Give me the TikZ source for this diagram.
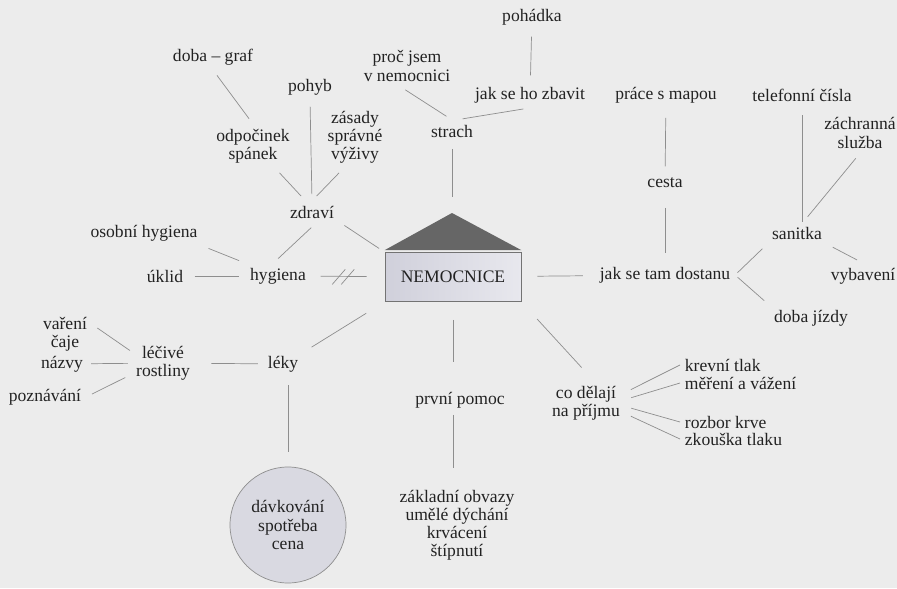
\documentclass[tikz,border=0pt]{standalone}
\usepackage{fontspec}
\setmainfont{Liberation Serif}
\newfontfamily\mapFace{Liberation Serif}
\definecolor{paperGray}{HTML}{ECECEC}
\definecolor{inkGray}{HTML}{222222}
\definecolor{wireGray}{HTML}{8E8E8E}
\definecolor{roofGray}{HTML}{666666}
\definecolor{boxLeft}{HTML}{D0D0DB}
\definecolor{boxRight}{HTML}{E8E8EE}
\definecolor{ballGray}{HTML}{D9D9E1}

\begin{document}
\begin{tikzpicture}[x=0.03cm,y=-0.03cm,%%
  labelStyle/.style={text=inkGray,align=center,inner sep=4pt,font=\mapFace\fontsize{15}{15.5}\selectfont},%%
  markStyle/.style={draw=wireGray,line width=0.6pt},%%
  linkStyle/.style={markStyle,shorten <=0.2cm,shorten >=0.2cm},%%
  hubStyle/.style={draw=black!55,line width=0.6pt,left color=boxLeft,right color=boxRight,minimum width=4.08cm,minimum height=1.47cm,inner sep=0pt,text=inkGray,font=\mapFace\fontsize{15}{15.5}\selectfont},%%
  roofStyle/.style={fill=roofGray},%%
  ballStyle/.style={circle,draw=wireGray,line width=0.6pt,fill=ballGray,minimum size=3.48cm,inner sep=0pt,align=center,text=inkGray,font=\mapFace\fontsize{15}{15.5}\selectfont}%%
]
%%
%% The page, measured in pixels of the scan.
\useasboundingbox (0,0) rectangle (897,588);
\fill[paperGray] (0,0) rectangle (897,588);
%%
%% The hospital in the middle: box first, roof on top of it.
\node[hubStyle] (nemocnice) at (453,277) {NEMOCNICE};
\coordinate (roofTop) at (452,213);
\fill[roofStyle] ([yshift=0.06cm]nemocnice.north west) -- (roofTop) -- ([yshift=0.06cm]nemocnice.north east) -- cycle;
%%
%% Health and hygiene (upper left).
\node[labelStyle] (zdravi) at (312,212) {zdraví};
\node[labelStyle] (pohyb) at (310,87) {pohyb};
\node[labelStyle] (odpocinek) at (253,146) {odpočinek\\spánek};
\node[labelStyle] (zasady) at (355,137) {zásady\\správné\\výživy};
\node[labelStyle] (dobaGraf) at (213,57) {doba – graf};
\node[labelStyle] (hygiena) at (278,276) {hygiena};
\node[labelStyle] (osobni) at (144,233) {osobní hygiena};
\node[labelStyle] (uklid) at (165,276) {úklid};
%%
%% Fear (top).
\node[labelStyle] (strach) at (452,131) {strach};
\node[labelStyle] (proc) at (407,66) {proč jsem\\v nemocnici};
\node[labelStyle] (zbavit) at (530,95) {jak se ho zbavit};
\node[labelStyle] (pohadka) at (532,17) {pohádka};
%%
%% The way to the hospital (right).
\node[labelStyle] (dostanu) at (665,275) {jak se tam dostanu};
\node[labelStyle] (cesta) at (665,183) {cesta};
\node[labelStyle] (mapa) at (666,95) {práce s mapou};
\node[labelStyle] (sanitka) at (797,233) {sanitka};
\node[labelStyle] (telefon) at (802,95) {telefonní čísla};
\node[labelStyle] (zachranna) at (860,133) {záchranná\\služba};
\node[labelStyle] (vybaveni) at (863,276) {vybavení};
\node[labelStyle] (dobaJizdy) at (811,318) {doba jízdy};
%%
%% Admission (lower right).
\node[labelStyle] (prijem) at (586,403) {co dělají\\na příjmu};
\node[labelStyle,anchor=west] (krevni) at (680,365) {krevní tlak};
\node[labelStyle,anchor=west] (mereni) at (680,383) {měření a vážení};
\node[labelStyle,anchor=west] (rozbor) at (680,422) {rozbor krve};
\node[labelStyle,anchor=west] (zkouska) at (680,439) {zkouška tlaku};
%%
%% First aid (bottom).
\node[labelStyle] (pomoc) at (460,400) {první pomoc};
\node[labelStyle] (obvazy) at (457,525) {základní obvazy\\umělé dýchání\\krvácení\\štípnutí};
%%
%% Medicines (lower left).
\node[labelStyle] (leky) at (283,364) {léky};
\node[labelStyle] (lecive) at (163,363) {léčivé\\rostliny};
\node[labelStyle] (vareni) at (65,334) {vaření\\čaje};
\node[labelStyle] (nazvy) at (62,364) {názvy};
\node[labelStyle] (poznavani) at (45,397) {poznávání};
\node[ballStyle] (davka) at (288,525) {dávkování\\spotřeba\\cena};
%%
%% Connectors of the health branch.
\draw[linkStyle] (dobaGraf.south) -- (odpocinek.north);
\draw[linkStyle] (pohyb.south) -- (zdravi.north);
\draw[linkStyle] (odpocinek.-45) -- (zdravi.120);
\draw[linkStyle] (zasady.-110) -- (zdravi.north);
\draw[linkStyle] (zdravi.-20) -- (nemocnice.north west);
\draw[linkStyle] (zdravi.-70) -- (hygiena.110);
\draw[linkStyle] (osobni.south east) -- (hygiena.north west);
\draw[linkStyle] (uklid) -- (hygiena);
%% The hygiene link is crossed out twice.
\draw[linkStyle,shorten <=0.3cm,shorten >=0.54cm] (hygiena) -- (nemocnice) coordinate[pos=0.44] (cutMark);
\draw[markStyle] ([xshift=-0.33cm,yshift=-0.24cm]cutMark) -- ++(0.39cm,0.45cm);
\draw[markStyle] ([xshift=-0.06cm,yshift=-0.24cm]cutMark) -- ++(0.39cm,0.45cm);
%%
%% Connectors of the fear branch.
\draw[linkStyle] (proc.-110) -- (strach.north);
\draw[linkStyle] (strach.70) -- (zbavit.south);
\draw[linkStyle] (pohadka) -- (zbavit);
\draw[linkStyle,shorten >=0.48cm] (strach) -- (roofTop);
%%
%% Connectors of the way there.
\draw[linkStyle,shorten <=0.3cm,shorten >=0.2cm] (mapa) -- (cesta);
\draw[linkStyle,shorten <=0.45cm,shorten >=0.27cm] (cesta) -- (dostanu);
\draw[linkStyle,shorten <=0.48cm,shorten >=0.36cm] (nemocnice) -- (dostanu);
\draw[linkStyle,shorten <=0.27cm,shorten >=0pt] (telefon.south) -- (telefon.south |- sanitka.north);
\draw[linkStyle] (zachranna.south) -- (sanitka.60);
\draw[linkStyle] (sanitka.south east) -- (vybaveni.north);
\draw[linkStyle,shorten >=0.1cm] (sanitka.south west) -- (dostanu.east);
\draw[linkStyle,shorten <=0.1cm] (dostanu.east) -- (dobaJizdy.north west);
%%
%% Connectors of the admission.
\draw[linkStyle,shorten <=0.7cm,shorten >=0.55cm] (nemocnice.south east) -- (prijem.70);
\draw[linkStyle,shorten >=0pt] (prijem.15) -- (krevni.west);
\draw[linkStyle,shorten >=0pt] (prijem.5) -- (mereni.west);
\draw[linkStyle,shorten >=0pt] (prijem.-5) -- (rozbor.west);
\draw[linkStyle,shorten >=0pt] (prijem.-15) -- (zkouska.west);
%%
%% Connectors of the first aid.
\draw[linkStyle,shorten <=0.54cm,shorten >=0.75cm] (nemocnice.south) -- (nemocnice.south |- pomoc.north);
\draw[linkStyle,shorten <=0.06cm,shorten >=0.5cm] (nemocnice.south |- pomoc.south) -- (nemocnice.south |- obvazy.north);
%%
%% Connectors of the medicines.
\draw[linkStyle,shorten <=0.65cm,shorten >=0.3cm] (nemocnice.south west) -- (leky.30);
\draw[linkStyle,shorten <=0.15cm,shorten >=0.5cm] (leky) -- (lecive);
\draw[linkStyle,shorten <=0.25cm,shorten >=0.45cm] (davka.north |- leky.south) -- (davka.north);
\draw[linkStyle,shorten >=0.05cm] (vareni.20) -- (lecive.160);
\draw[linkStyle,shorten <=0.1cm,shorten >=0.1cm] (nazvy) -- (lecive);
\draw[linkStyle] (poznavani.east) -- (lecive.-160);
\end{tikzpicture}
\end{document}
